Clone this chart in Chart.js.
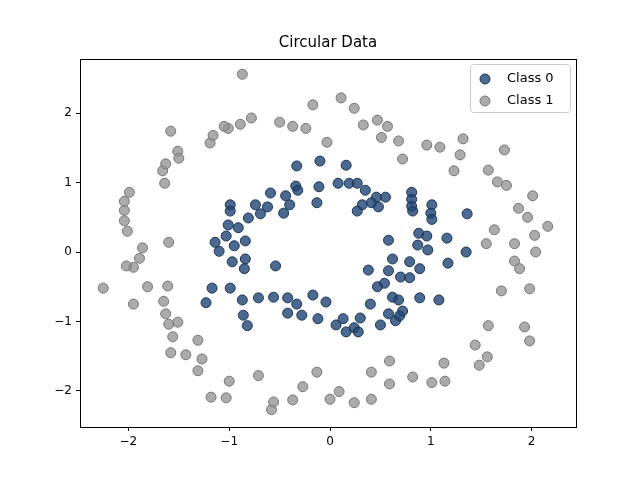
<!DOCTYPE html>
<html><head><meta charset="utf-8">
<script src="https://cdn.jsdelivr.net/npm/chart.js@4/dist/chart.umd.min.js"></script>
<style>html,body{margin:0;padding:0;background:#fff}#w{width:640px;height:480px}</style>
</head><body><div id="w"><canvas id="c" width="640" height="480"></canvas></div>
<script>
const class0X=[-0.33,-0.10,0.16,0.08,0.19,0.27,0.35,0.46,0.41,0.32,0.27,0.55,0.48,0.81,0.81,0.81,0.82,1.01,1.00,1.01,1.36,-0.11,-0.13,-0.34,-0.32,-0.44,-0.46,-0.40,-0.59,-0.62,-0.74,-0.81,-0.69,-0.99,-0.99,-0.91,-1.01,-1.03,-1.14,-1.10,-0.95,-0.97,-0.84,-0.84,-0.85,-0.54,-1.17,-0.99,-1.23,-0.87,-0.71,-0.86,-0.82,-0.56,-0.42,-0.33,-0.42,-0.28,-0.17,-0.12,-0.04,0.06,0.13,0.24,0.30,0.40,0.16,0.28,0.50,0.58,0.65,0.69,0.72,0.62,0.54,0.58,0.70,0.79,0.89,0.97,1.16,0.96,0.87,0.79,0.62,0.58,0.88,1.35,1.17,1.08,0.89,0.68,0.38,0.47];
const class0Y=[1.24,1.31,1.25,0.99,0.99,0.99,0.89,0.79,0.71,0.68,0.59,0.79,0.65,0.86,0.76,0.66,0.59,0.68,0.56,0.47,0.55,0.94,0.71,0.95,0.89,0.81,0.56,0.68,0.85,0.65,0.68,0.49,0.55,0.68,0.59,0.35,0.39,0.23,0.14,0.01,0.09,-0.14,-0.10,0.16,-0.24,-0.20,-0.52,-0.52,-0.73,-0.69,-0.66,-0.91,-1.06,-0.65,-0.66,-0.75,-0.88,-0.91,-0.62,-0.96,-0.72,-1.05,-0.96,-1.09,-0.95,-0.75,-1.15,-1.15,-1.05,-0.89,-0.99,-0.92,-0.85,-0.65,-0.45,-0.27,-0.36,-0.37,-0.24,0.03,0.20,0.23,0.10,-0.14,-0.10,0.17,0.27,0.00,-0.16,-0.69,-0.66,-0.69,-0.26,-0.50];
const class1X=[-0.87,-1.01,-0.89,-0.78,-0.50,-0.37,-0.24,-0.17,-0.03,0.11,0.24,0.33,0.47,0.57,0.68,0.72,0.51,0.96,1.09,1.32,1.29,1.23,1.57,1.66,1.73,1.75,1.87,1.96,2.01,2.16,1.63,1.55,1.83,1.88,2.03,2.04,1.83,1.98,1.70,1.93,1.98,1.57,1.56,1.48,1.44,1.13,1.14,1.01,0.82,0.59,0.59,0.41,0.41,0.24,0.09,0.00,-0.13,-0.27,-0.37,-0.58,-0.71,-0.56,-1.00,-1.03,-1.18,-1.27,-1.31,-1.43,-1.31,-1.56,-1.58,-1.60,-1.63,-1.65,-1.61,-1.51,-1.60,-1.81,-1.95,-1.89,-2.02,-2.25,-1.95,-1.86,-2.01,-2.04,-2.04,-2.04,-1.99,-1.66,-1.64,-1.63,-1.51,-1.50,-1.58,-1.19,-1.16,-1.05];
const class1Y=[2.56,1.78,1.84,1.93,1.87,1.81,1.78,2.12,1.58,2.22,2.07,1.83,1.90,1.81,1.60,1.34,1.65,1.54,1.51,1.63,1.40,1.17,1.18,1.01,1.47,0.96,0.63,0.50,0.81,0.37,0.32,0.12,0.12,-0.24,0.24,0.00,-0.13,-0.53,-0.56,-1.08,-1.28,-1.06,-1.51,-1.63,-1.34,-1.60,-1.86,-1.88,-1.80,-1.57,-1.90,-2.12,-1.73,-2.17,-2.01,-2.12,-1.73,-1.94,-2.13,-2.27,-1.78,-2.16,-1.86,-2.10,-2.09,-1.54,-1.71,-1.48,-1.27,-1.22,-1.45,-1.04,-0.89,-0.71,-0.49,-1.01,0.14,-0.50,-0.22,-0.09,-0.20,-0.52,-0.75,0.06,0.30,0.45,0.60,0.73,0.86,1.17,0.99,1.27,1.45,1.35,1.74,1.57,1.68,1.81];
const seriesNames=['Class 0','Class 1'];
const xTicks=[-2,-1,0,1,2];
const yTicks=[-2,-1,0,1,2];
const fills=['rgba(31,69,115,0.8)','rgba(150,150,150,0.8)'];
const borders=['#1c3657','#777777'];
const pts=(xs,ys)=>xs.map((x,i)=>({x,y:ys[i]}));
const FONT='"DejaVu Sans", sans-serif';
const deco={id:'deco',afterDraw(ch){
  const c=ch.ctx,a=ch.chartArea;c.save();
  c.strokeStyle='#000';c.lineWidth=1;c.strokeRect(Math.round(a.left)+0.5,Math.round(a.top)+0.5,Math.round(a.right-a.left),Math.round(a.bottom-a.top));
  c.fillStyle='#000';c.font='15px '+FONT;c.textAlign='center';c.textBaseline='middle';
  c.fillText('Circular Data',(a.left+a.right)/2,43);
  const bx=a.right-106,by=a.top+5,bw=100,bh=48;
  c.fillStyle='rgba(255,255,255,0.8)';c.strokeStyle='#ccc';c.lineWidth=1;
  c.beginPath();c.roundRect(bx+0.5,by+0.5,bw,bh,3);c.fill();c.stroke();
  c.font='13px '+FONT;c.textAlign='left';
  for(let i=0;i<2;i++){const yy=by+15+i*22;
    c.beginPath();c.arc(bx+15,yy,5,0,Math.PI*2);c.fillStyle=fills[i];c.fill();c.strokeStyle=borders[i];c.stroke();
    c.fillStyle='#000';c.fillText(seriesNames[i],bx+37,yy);}
  c.restore();}};
new Chart(document.getElementById('c'),{type:'scatter',
 data:{datasets:[
  {label:seriesNames[0],data:pts(class0X,class0Y),backgroundColor:fills[0],borderColor:borders[0],borderWidth:1,pointRadius:5},
  {label:seriesNames[1],data:pts(class1X,class1Y),backgroundColor:fills[1],borderColor:borders[1],borderWidth:1,pointRadius:5}]},
 options:{responsive:false,animation:false,devicePixelRatio:1,
  layout:{padding:{top:59,right:64,left:0,bottom:0}},
  plugins:{legend:{display:false},tooltip:{enabled:false}},
  scales:{
   x:{type:'linear',min:-2.48,max:2.44,afterBuildTicks:s=>{s.ticks=xTicks.map(v=>({value:v}));},
      afterFit:s=>{s.height=53;},
      grid:{drawOnChartArea:false,color:'#000',tickLength:4},border:{color:'#000'},
      ticks:{color:'#000',font:{family:FONT,size:12},padding:4,callback:v=>v<0?'\u2212'+(-v):String(v)}},
   y:{type:'linear',min:-2.52,max:2.78,afterBuildTicks:s=>{s.ticks=yTicks.map(v=>({value:v}));},
      afterFit:s=>{s.width=80;},
      grid:{drawOnChartArea:false,color:'#000',tickLength:4},border:{color:'#000'},
      ticks:{color:'#000',font:{family:FONT,size:12},padding:4,callback:v=>v<0?'\u2212'+(-v):String(v)}}
  }},plugins:[deco]});
</script></body></html>
